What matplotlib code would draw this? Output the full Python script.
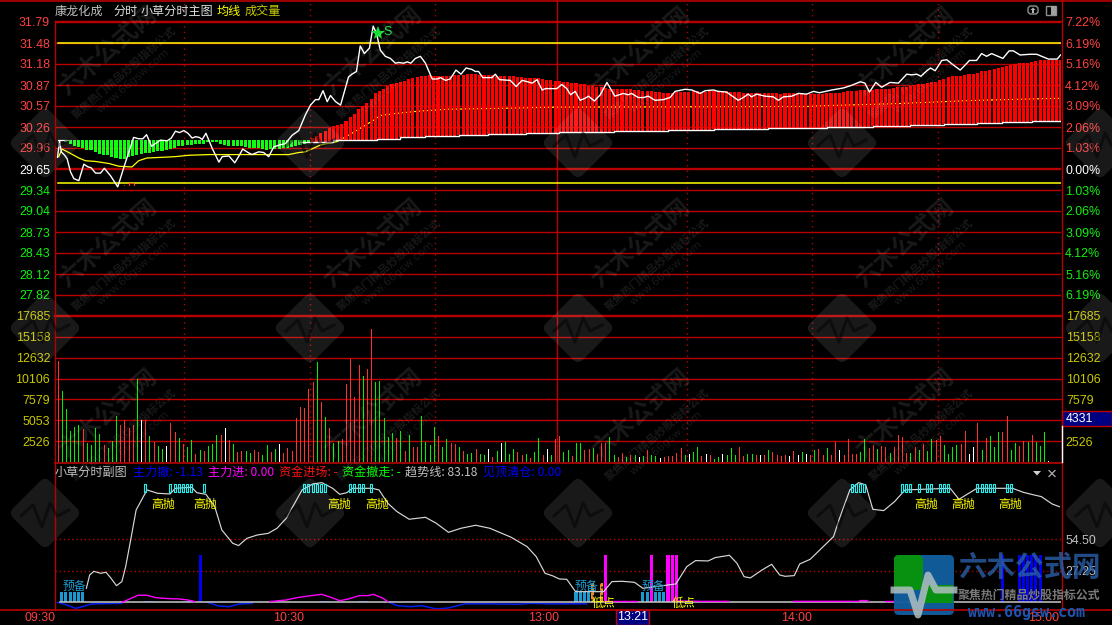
import numpy as np
import matplotlib
matplotlib.use("Agg")
import matplotlib.pyplot as plt
from matplotlib.patches import FancyBboxPatch, Rectangle, Circle, Polygon
from matplotlib.path import Path
from matplotlib.transforms import Affine2D, Bbox, TransformedBbox

W, H = 1112, 625
CJK = ['Noto Sans CJK SC', 'DejaVu Sans']
NUM = ['Liberation Sans', 'DejaVu Sans']

# ---------------- data ----------------
price_ticks = [31.79, 31.48, 31.18, 30.87, 30.57, 30.26, 29.96, 29.65, 29.34, 29.04, 28.73, 28.43, 28.12, 27.82]
pct_labels = ['7.22%', '6.19%', '5.16%', '4.12%', '3.09%', '2.06%', '1.03%', '0.00%', '1.03%', '2.06%', '3.09%', '4.12%', '5.16%', '6.19%']
pre_close = 29.65
band_upper = 31.48
band_lower = 29.45
vol_ticks = [2526, 5053, 7579, 10106, 12632, 15158, 17685]
sub_ticks = [27.25, 54.50]
time_ticks = [-0.5, 59, 120, 180.5, 239.6]
time_labels = ['09:30', '10:30', '13:00', '14:00', '15:00']
dotted_minutes = [30.3, 60.3, 90.3, 150.6, 180.5, 210.7]
lunch_minute = 119.5

price_min = [0, 0.5, 0.9, 1.7, 2.3, 3.1, 3.9, 5.1, 6.3, 7.3, 8.0, 9.1, 10.3, 11.2, 12.7, 14.4, 15.9, 18.2, 19.4, 20.4, 21.3, 22.5, 23.4, 24.6, 26.2, 27.2, 28.2, 29.2, 30.2, 31.2, 32.2, 33.0, 33.9, 34.6, 35.5, 37.0, 38.6, 39.4, 41.0, 42.4, 43.3, 44.3, 45.3, 46.5, 48.1, 49.3, 50.5, 51.7, 53.1, 54.5, 56.1, 57.7, 59.3, 60.5, 61.7, 62.5, 63.5, 64.5, 65.3, 66.5, 67.7, 68.8, 69.6, 70.4, 71.5, 72.4, 73.4, 74.6, 75.5, 76.3, 77.2, 78.4, 79.6, 80.8, 81.6, 82.8, 83.6, 84.5, 85.6, 86.8, 88.0, 89.6, 90.8, 91.6, 92.8, 93.9, 95.3, 96.5, 97.7, 99.1, 99.9, 100.7, 101.7, 103.9, 104.7, 105.7, 108.3, 109.7, 111.1, 112.4, 113.5, 114.7, 115.9, 116.7, 119.4, 120.6, 121.8, 122.7, 123.8, 125, 126.2, 127, 128.4, 129.8, 131.4, 133.3, 135.3, 136.5, 137.3, 138.9, 140.1, 141.3, 142.9, 144.9, 146.5, 147.7, 150.1, 151.7, 153.7, 154.9, 156.9, 158, 160, 162.8, 164, 165.2, 166, 167.2, 169.2, 171.2, 172.4, 173.6, 175.6, 177.2, 179.2, 180.8, 182.2, 185.2, 188, 190, 192, 193.1, 194.2, 195.7, 197.1, 199.1, 201.1, 203.1, 204.3, 205.5, 206.5, 207.9, 208.8, 209.9, 211.5, 212.7, 213.9, 215.9, 217.5, 218.1, 219.8, 221, 222.2, 223.4, 226.1, 227.6, 228.6, 230.2, 232.6, 234.2, 237, 239.1, 239.9]
price_val = [29.82, 30.06, 29.90, 29.85, 29.80, 29.61, 29.51, 29.48, 29.72, 29.68, 29.67, 29.59, 29.59, 29.66, 29.55, 29.39, 29.68, 30.11, 30.09, 30.09, 30.15, 29.98, 30.02, 30.07, 30.06, 30.10, 30.20, 30.18, 30.21, 30.17, 30.10, 30.12, 30.11, 30.08, 30.17, 29.95, 29.75, 29.83, 29.84, 29.74, 29.83, 29.94, 29.90, 29.86, 29.90, 29.89, 29.83, 29.97, 30.0, 30.02, 30.14, 30.21, 30.44, 30.58, 30.66, 30.66, 30.79, 30.63, 30.72, 30.63, 30.58, 30.82, 30.99, 31.03, 31.07, 31.44, 31.33, 31.41, 31.73, 31.62, 31.38, 31.29, 31.26, 31.19, 31.20, 31.19, 31.21, 31.19, 31.26, 31.29, 31.19, 30.96, 30.96, 30.98, 30.94, 30.96, 31.09, 31.03, 31.12, 31.10, 31.07, 31.07, 30.98, 30.98, 31.03, 30.95, 30.94, 30.85, 30.94, 30.92, 30.90, 30.95, 30.80, 30.82, 30.82, 30.88, 30.82, 30.73, 30.78, 30.65, 30.68, 30.71, 30.64, 30.73, 30.91, 30.71, 30.75, 30.73, 30.75, 30.69, 30.69, 30.71, 30.65, 30.66, 30.69, 30.78, 30.81, 30.80, 30.75, 30.79, 30.80, 30.78, 30.77, 30.65, 30.69, 30.74, 30.70, 30.74, 30.71, 30.70, 30.65, 30.70, 30.71, 30.75, 30.74, 30.78, 30.76, 30.80, 30.83, 30.87, 30.92, 30.90, 30.77, 30.91, 30.84, 30.91, 30.90, 31.03, 31.02, 31.03, 31.0, 31.08, 31.12, 31.08, 31.23, 31.24, 31.18, 31.09, 31.19, 31.23, 31.23, 31.33, 31.29, 31.33, 31.26, 31.37, 31.37, 31.31, 31.32, 31.32, 31.25, 31.25, 31.31]

avg_min = [0.3, 1.1, 2.7, 5.1, 6.7, 9.1, 12.3, 14.7, 17.8, 19.4, 21.4, 25, 28.2, 29.8, 31.4, 36.2, 50.5, 55.3, 57.7, 59.3, 61.5, 62.9, 66.9, 70.4, 75.6, 77.2, 81.2, 86, 93.2, 103.5, 119.4, 180, 182, 200, 220, 240]
avg_val = [29.83, 29.94, 29.89, 29.81, 29.77, 29.76, 29.73, 29.69, 29.68, 29.77, 29.81, 29.82, 29.83, 29.84, 29.85, 29.86, 29.86, 29.86, 29.89, 29.90, 29.96, 30.0, 30.05, 30.17, 30.36, 30.43, 30.46, 30.49, 30.52, 30.53, 30.55, 30.56, 30.57, 30.60, 30.65, 30.68]

green_top = 30.07
green_low = [30.055, 30.04, 30.02, 29.99, 29.97, 29.95, 29.93, 29.92, 29.90, 29.87, 29.85, 29.86, 29.82, 29.81, 29.79, 29.79, 29.82, 29.84, 29.86, 29.87, 29.88, 29.89, 29.90, 29.91, 29.91, 29.93, 29.94, 29.96, 29.98, 29.99, 30.0, 30.0, 30.01, 30.02, 30.02, 30.05, 30.05, 30.04, 30.02, 30.0, 29.99, 29.99, 29.98, 29.98, 29.97, 29.96, 29.96, 29.95, 29.94, 29.93, 29.94, 29.94, 29.94, 29.95, 29.96, 29.97, 29.99, 30.0, 30.02, 30.04]

base_min = [58, 66, 76.5, 82, 88, 96, 103, 112, 120, 133, 146, 157, 170, 184, 195, 204, 212, 220, 226, 233, 240]
base_val = [30.043, 30.072, 30.09, 30.116, 30.13, 30.145, 30.16, 30.174, 30.184, 30.20, 30.218, 30.228, 30.242, 30.257, 30.276, 30.286, 30.30, 30.315, 30.33, 30.344, 30.344]

red_top_a = [30.06, 30.10, 30.13, 30.18, 30.21, 30.25, 30.28, 30.29, 30.31, 30.35, 30.40, 30.45, 30.52, 30.56, 30.61, 30.67, 30.75, 30.79, 30.82, 30.86, 30.88, 30.90, 30.92, 30.93, 30.96, 30.97, 30.99, 31.0, 31.01, 31.02, 31.01, 31.0, 31.0, 31.0, 31.0, 31.02, 31.02, 31.02, 31.03, 31.03, 31.03, 31.02, 31.02, 31.02, 31.02, 31.01, 31.01, 31.0, 31.0, 31.0, 30.99, 30.99, 30.98, 30.98, 30.97, 30.97, 30.96, 30.95, 30.94, 30.93, 30.93, 30.92]
red_top_b = [30.92, 30.90, 30.90, 30.88, 30.88, 30.86, 30.86, 30.85, 30.84, 30.83, 30.82, 30.82, 30.81, 30.81, 30.81, 30.81, 30.80, 30.80, 30.79, 30.78, 30.78, 30.77, 30.77, 30.76, 30.76, 30.76, 30.77, 30.77, 30.77, 30.77, 30.78, 30.78, 30.77, 30.77, 30.78, 30.78, 30.78, 30.78, 30.78, 30.77, 30.77, 30.77, 30.76, 30.75, 30.75, 30.75, 30.75, 30.75, 30.75, 30.75, 30.75, 30.74, 30.75, 30.75, 30.75, 30.75, 30.75, 30.74, 30.74]
red_top_c = [30.74, 30.74, 30.74, 30.75, 30.75, 30.76, 30.76, 30.77, 30.78, 30.78, 30.79, 30.80, 30.80, 30.80, 30.80, 30.81, 30.81, 30.82, 30.82, 30.83, 30.84, 30.85, 30.85, 30.86, 30.87, 30.88, 30.89, 30.90, 30.91, 30.92, 30.94, 30.96, 30.99, 31.0, 31.01, 31.01, 31.02, 31.03, 31.04, 31.05, 31.07, 31.08, 31.09, 31.11, 31.12, 31.13, 31.15, 31.17, 31.18, 31.19, 31.20, 31.20, 31.21, 31.22, 31.23, 31.24, 31.24, 31.24, 31.24, 31.24]

volumes = [12270, 8540, 6380, 3730, 4210, 4450, 3970, 2290, 2050, 4090,
           3370, 2050, 1720, 2530, 5530, 4450, 5050, 4090, 4450, 10100,
           5050, 5050, 3130, 2400, 1920, 1560, 1920, 4690, 3610, 2890,
           2170, 1800, 2650, 960, 1440, 1320, 1920, 2170, 3250, 3250,
           4090, 2650, 2170, 1200, 1320, 1320, 1080, 1440, 1200, 840,
           2050, 1200, 1560, 2170, 1080, 1680, 1320, 5290, 6620, 6500,
           8900, 9740, 12150, 7220, 5410, 4090, 2290, 2530, 2770, 9500,
           12510, 7820, 11790, 10470, 11310, 16100, 9740, 9860, 5290, 3010,
           3490, 2890, 3730, 1320, 3250, 1800, 1800, 5530, 2400, 2050,
           4210, 3130, 1800, 2770, 2290, 2170, 1800, 1320, 960, 1080,
           1560, 960, 840, 1560, 600, 1320, 2290, 2400, 960, 1560,
           1200, 840, 960, 480, 1200, 2890, 840, 1560, 840, 2770,
           3130, 1200, 1440, 720, 2290, 2290, 1440, 1560, 1680, 960,
           2290, 2290, 3010, 840, 600, 1080, 600, 840, 840, 600,
           720, 1440, 840, 720, 480, 600, 720, 720, 1080, 1680,
           840, 960, 1200, 1800, 720, 960, 840, 360, 600, 960,
           840, 1680, 840, 1800, 720, 960, 960, 840, 840, 840,
           1440, 1200, 840, 720, 840, 720, 1320, 840, 1200, 960,
           840, 1440, 1560, 840, 1680, 840, 2400, 1440, 840, 2770,
           960, 960, 1200, 2770, 1680, 2050, 1560, 1920, 1800, 1080,
           1800, 3250, 3010, 1080, 1080, 1800, 1440, 2170, 1320, 2770,
           2650, 3130, 2050, 960, 1800, 2050, 2170, 3730, 960, 1800,
           4690, 1440, 2890, 3130, 1800, 3610, 3610, 5530, 1440, 2290,
           1920, 2530, 2400, 3250, 2400, 1920, 3610, 120]
vol_sides = ("rgggggrggg" "grgggrrrrg" "wrgrggwrrg" "rggrgrgggr" "wrgrrggrrg"
             "grgwrrrrrr" "rrgrgrggrr" "rrrgrrgggg" "grgrgrrggg" "grggrrgrgg"
             "rggwrgwggg" "rrgrggrwgr" "rggrggrrgr" "rrggrrgrgw" "grggwrrrrr"
             "gwggrwrggw" "gggrrggrwr" "grrrrwrwgw" "rgrrgrrwrr" "rrggrrgrrg"
             "rrrrgrgrgg" "rrggggrrww" "rgrgggrrgg" "rrgrgggw")
vol_now = '4331'

trend_min = [6.9, 7.7, 8.7, 10.3, 11.6, 12.8, 14.1, 15.4, 16.3, 17.5, 18.8, 20.1, 21.4, 23.9, 26.9, 28.2, 32.1, 33.3, 35.5, 37.6, 39.3, 41.9, 43.3, 45.3, 47.8, 50.4, 52.5, 54.7, 58.5, 61.1, 63.2, 65.8, 67.5, 69.2, 70.5, 75.2, 76.9, 79.0, 81.2, 84.1, 88.0, 90.6, 93.5, 96.5, 100, 103.4, 108.5, 112.3, 114.5, 116.6, 118.5, 120, 121.8, 123.9, 130.6, 132.6, 135, 138, 140, 147.9, 150.5, 152.6, 155.6, 157.3, 160.7, 162.5, 164.2, 165.7, 168.5, 170.8, 172.7, 174, 176.2, 177.5, 180, 185.6, 186.9, 189.5, 191.6, 193.3, 195, 197.6, 200.2, 202.7, 213.5, 215.6, 219.9, 224.1, 228.4, 231, 233.6, 235.3, 237.9, 239.6]
trend_val = [12.1, 23.7, 26.8, 25.1, 26.0, 20.8, 14.4, 17.9, 30.9, 54.0, 79.9, 88.6, 97.3, 94.4, 93.8, 98.7, 99.6, 94.9, 93.5, 82.8, 62.6, 51.1, 49.1, 55.4, 58.3, 59.7, 64.1, 72.7, 97.3, 102.5, 103.6, 98.7, 93.5, 94.9, 98.7, 98.7, 97.3, 85.7, 78.5, 71.9, 73.6, 68.4, 60.6, 64.1, 66.7, 64.1, 56.3, 48.2, 39.5, 25.1, 22.8, 20.2, 19.9, 9.2, 9.2, 17.9, 18.2, 17.3, 12.1, 15.9, 30.9, 36.1, 35.8, 38.7, 40.7, 33.8, 22.2, 21.1, 28, 32.9, 23.7, 22.5, 23.1, 33.2, 37.2, 56.9, 71.3, 97.3, 103.6, 101.6, 80.5, 79.4, 87.2, 97.3, 98.7, 89.2, 98.7, 98.7, 98.7, 95.2, 92.9, 91.5, 85.1, 82.8]

mag_min_a = [15.4, 17.1, 19.2, 21.4, 23.5, 26.5, 29.1, 31.2, 32.9]
mag_val_a = [0, 2.6, 6.1, 6.1, 4, 3.2, 2.9, 2, 0.6]
mag_min_b = [50.8, 53, 54.7, 57.2, 60.7, 63.2, 65.4, 67.5, 69.6, 72.2, 74.3, 75.6, 77.8, 79]
mag_val_b = [0.6, 1.4, 2, 4, 5.8, 6.9, 4.3, 1.4, 2.9, 5.8, 5.8, 6.9, 3.5, 0.6]
mag_min_c = [130.6, 138.5]
mag_val_c = [0.8, 0.8]
mag_min_d = [148, 153.5, 160.5]
mag_val_d = [1.2, 0.8, 0.8]
mag_min_e = [176, 191.6, 192, 193.5, 194]
mag_val_e = [0.8, 0.8, 1.5, 1.5, 0.8]
mag_min_f = [198, 203]
mag_val_f = [0.8, 0.8]
blue_min_a = [0, 2.2, 4.3, 6, 8.1, 10.7, 15.4]
blue_val_a = [0, -2.3, -5.2, -3.8, -1.4, -1.2, -0.9]
blue_min_b = [35.9, 38.5, 41, 43.6, 46.6]
blue_val_b = [0, -3.2, -3.8, -1.4, -0.9]
blue_min_c = [79.4, 81.2, 84.6, 87.1, 90.6, 93.5, 97.4, 100.8, 110.2, 112.8, 119.6, 122, 126.5]
blue_val_c = [0, -2.9, -3.8, -2.9, -5.8, -4.9, -1.4, -1.2, -1.7, -0.9, -1.4, -1.2, -1.4]

teal_minutes = [1, 2, 3, 4, 5, 6, 124, 125, 126, 127, 140, 141, 143, 144, 145]
teal_height = 9.2
orange_minutes = [128, 130]
orange_height = 16.5
magenta_minutes = [131, 142, 146, 147, 148]
tall_height = 41
blue_bar_minutes = [34.3, 226, 230, 231, 232, 233, 234, 235]
blue_tick_minutes = [22, 32, 64, 73]
box_minutes = [21, 27, 28, 29, 30, 31, 32, 35, 59, 60, 61, 62, 63, 64, 70, 71, 72, 73, 75,
               190, 191, 192, 193, 202, 203, 204, 206, 208, 209, 211, 212, 213, 220, 221, 222, 223, 224, 227, 228]
box_level = 98.7
sell_minutes = [25.2, 35.2, 67.3, 76.4, 207.8, 216.7, 227.9]
sell_level = 84.3
ready_minutes = [4.1, 126.5, 142.6]
ready_level = 14.1
low_minutes = [130.7, 149.7]
low_level = -0.8

# ---------------- helpers ----------------
BG = 'black'
GRID = '#b80000'
AXIS = '#b80000'
RED_T = '#ff4040'
GREEN_T = '#10f010'
OLIVE = '#c8c800'
GRAY = '#c0c0c0'
XLIM = (-0.6, 240)
TICK_FS = 8.9

def rect(x0, y0, x1, y1):
    return [x0 / W, 1 - y1 / H, (x1 - x0) / W, (y1 - y0) / H]

fig = plt.figure(figsize=(W / 100, H / 100), dpi=100, facecolor=BG)

def make_ax(x0, y0, x1, y1, z=1):
    a = fig.add_axes(rect(x0, y0, x1, y1), facecolor=BG, zorder=z)
    a.set_xlim(*XLIM)
    for s in a.spines.values():
        s.set_visible(False)
    a.tick_params(length=0)
    a.set_xticks([])
    return a

# ---------------- price panel ----------------
ax = make_ax(55, 1, 1061, 316)
ax.set_ylim(29.65 + (169 - 316) / 68.7, 29.65 + (169 - 1) / 68.7)
ax.set_yticks(price_ticks)
ax.set_yticklabels([f'{p:.2f}' for p in price_ticks], family=NUM, fontsize=TICK_FS)
ax.tick_params(axis='y', pad=3.5)
for t, p in zip(ax.get_yticklabels(), price_ticks):
    t.set_color(RED_T if p > pre_close else ('white' if p == pre_close else GREEN_T))
for p in price_ticks:
    ax.axhline(p, color=GRID, lw=1.7 if p == pre_close else 1.0, zorder=1)
for m in dotted_minutes:
    ax.axvline(m, color=GRID, lw=1.0, ls=(0, (1, 3)), zorder=1)
ax.axvline(lunch_minute, color=GRID, lw=1.0, zorder=1)
ax.plot([0, 240], [band_upper, band_upper], color='#ffff00', lw=1.1, zorder=2)
ax.plot([0, 240], [band_lower, band_lower], color='#ffff00', lw=1.1, zorder=2)

ax.plot(avg_min, avg_val, color='#ffff00', lw=0.9, zorder=3)

base_arr = np.array(base_val)
red_top = np.full(241, np.nan)
red_top[60:60 + len(red_top_a)] = red_top_a
red_top[122:122 + len(red_top_b)] = red_top_b
red_top[181:181 + len(red_top_c)] = red_top_c
mins = np.arange(241)
idx = np.clip(np.searchsorted(base_min, mins, side='right') - 1, 0, len(base_val) - 1)
ok = np.isfinite(red_top)
ax.bar(mins[ok], red_top[ok] - base_arr[idx][ok], bottom=base_arr[idx][ok], width=0.74,
       color='#ff0000', linewidth=0, antialiased=False, zorder=4)
gmins = np.arange(1, 1 + len(green_low))
ax.bar(gmins, green_top - np.array(green_low), bottom=green_low, width=0.74,
       color='#10ff10', linewidth=0, antialiased=False, zorder=4)
ax.plot(base_min, base_val, drawstyle='steps-post', color='white', lw=1.0, zorder=5, solid_joinstyle='miter')
ax.plot([0, 3], [green_top, green_top], color='white', lw=0.9, zorder=5)
ax.plot(price_min, price_val, color='white', lw=1.0, zorder=6)

ax2 = ax.twinx()
ax2.set_ylim(ax.get_ylim())
for s in ax2.spines.values():
    s.set_visible(False)
ax2.set_yticks(price_ticks)
ax2.set_yticklabels(pct_labels, family=NUM, fontsize=TICK_FS)
ax2.tick_params(axis='y', length=0, pad=3)
for t, p in zip(ax2.get_yticklabels(), price_ticks):
    t.set_color(RED_T if p > pre_close else ('white' if p == pre_close else GREEN_T))

ax.plot([76.6], [31.63], marker='*', color='#10e030', ms=10, mew=0, zorder=7)
ax.text(78.0, 31.64, 'S', color='#10e030', fontsize=9, family=NUM, va='center', zorder=7)
clip = TransformedBbox(Bbox([[12, 29.40], [25, 29.48]]), ax.transData)
for m_, s_ in [(15.0, '+'), (16.8, 'B')]:
    tb = ax.text(m_, 29.365, s_, color='#ff3030', fontsize=9, family=NUM, va='center', zorder=7)
    tb.set_clip_box(clip)
    tb.set_clip_on(True)

# ---------------- volume panel ----------------
av = make_ax(55, 316, 1061, 462)
av.set_ylim(0, 17685)
av.set_yticks(vol_ticks)
av.set_yticklabels([str(v) for v in vol_ticks], family=NUM, fontsize=TICK_FS, color=OLIVE)
av.tick_params(axis='y', pad=3.5)
for v in vol_ticks:
    av.axhline(v, color=GRID, lw=1.7 if v == 17685 else 1.0, zorder=1, clip_on=False)
for m in dotted_minutes:
    av.axvline(m, color=GRID, lw=1.0, ls=(0, (1, 3)), zorder=1)
av.axvline(lunch_minute, color=GRID, lw=1.0, zorder=1)
side_col = {'r': '#ff3232', 'g': '#00f000', 'w': '#ffffff'}
av.vlines(np.arange(len(volumes)), 0, volumes, colors=[side_col[c] for c in vol_sides], lw=0.72,
          antialiased=False, zorder=3)
av2 = av.twinx()
av2.set_ylim(0, 17685)
for s in av2.spines.values():
    s.set_visible(False)
av2.set_yticks(vol_ticks)
av2.set_yticklabels([str(v) for v in vol_ticks], family=NUM, fontsize=TICK_FS, color=OLIVE)
av2.tick_params(axis='y', length=0, pad=3.5)

# ---------------- sub panel ----------------
sb = make_ax(55, 463, 1061, 609.5)
sb.set_ylim((602.3 - 609.5) / 1.155, (602.3 - 463) / 1.155)
sb.yaxis.tick_right()
sb.set_yticks(sub_ticks)
sb.set_yticklabels([f'{v:.2f}' for v in sub_ticks], family=NUM, fontsize=TICK_FS, color=GRAY)
sb.tick_params(axis='y', pad=3.5)
sb.set_xticks(time_ticks)
sb.set_xticklabels(time_labels, family=NUM, fontsize=TICK_FS, color=RED_T, ha='right')
sb.tick_params(axis='x', pad=2)
for v in sub_ticks:
    sb.axhline(v, color=GRID, lw=1.0, ls=(0, (1, 2)), zorder=1)
sb.bar(teal_minutes, [teal_height] * len(teal_minutes), width=0.74, color='#1a9ad0', linewidth=0, zorder=2)
sb.bar(orange_minutes, [orange_height] * len(orange_minutes), width=0.74, color='#f09020',
       edgecolor='#202020', hatch='....', linewidth=0, zorder=2)
sb.bar(magenta_minutes, [tall_height] * len(magenta_minutes), width=0.74, color='#ff00ff', linewidth=0, zorder=2)
sb.bar(blue_bar_minutes, [tall_height] * len(blue_bar_minutes), width=0.74, color='#0000f0', linewidth=0, zorder=2)
sb.bar(blue_tick_minutes, [1.2] * len(blue_tick_minutes), width=2.5, color='#0030f0', linewidth=0, zorder=3)
for mm, vv in [(blue_min_a, blue_val_a), (blue_min_b, blue_val_b), (blue_min_c, blue_val_c)]:
    sb.plot(mm, vv, color='#0020f0', lw=1.1, zorder=3)
sb.plot([0.7, 240], [0, 0], color='#c8c8c8', lw=1.1, zorder=4)
for mm, vv in [(mag_min_a, mag_val_a), (mag_min_b, mag_val_b), (mag_min_c, mag_val_c),
               (mag_min_d, mag_val_d), (mag_min_e, mag_val_e), (mag_min_f, mag_val_f)]:
    sb.plot(mm, vv, color='#ff00ff', lw=1.0, zorder=4)
sb.plot(trend_min, trend_val, color='#d8d8d8', lw=0.85, zorder=5)
box_marker = Path([(-0.38, -1), (0.38, -1), (0.38, 1), (-0.38, 1), (-0.38, -1)])
sb.plot(box_minutes, [box_level] * len(box_minutes), ls='none', marker=box_marker, ms=5.2,
        mfc='none', mec='#20f0f0', mew=0.8, zorder=6)
for m in sell_minutes:
    sb.text(m, sell_level, '高抛', color='#ffff00', fontsize=8.6, family=CJK, ha='center', va='center', zorder=7)
for m in ready_minutes:
    sb.text(m, ready_level, '预备', color='#1a9ad0', fontsize=8.6, family=CJK, ha='center', va='center', zorder=7)
for m in low_minutes:
    sb.text(m, low_level, '低点', color='#ffff00', fontsize=8.6, family=CJK, ha='center', va='center', zorder=7, clip_on=False)

# ---------------- overlay: frame, titles, watermark ----------------
ov = fig.add_axes([0, 0, 1, 1], zorder=10, facecolor='none')
ov.set_xlim(0, W)
ov.set_ylim(H, 0)
ov.axis('off')

ov.plot([0, W], [0.8, 0.8], color=AXIS, lw=1.2)
ov.plot([54.5, 54.5], [21, 609.5], color=AXIS, lw=1.0)
ov.plot([1061.5, 1061.5], [0, 609.5], color=AXIS, lw=1.0)
ov.plot([54.5, 1061.5], [21, 21], color=GRID, lw=1.0)
ov.plot([54.5, 1061.5], [463, 463], color=AXIS, lw=1.2)
ov.plot([0, W], [609.5, 609.5], color=AXIS, lw=1.2)
ov.plot([1061.5, 1061.5], [426, 462], color='white', lw=1.0)

def label(x, y, s, color, size=8.7, ha='left', fam=CJK, **kw):
    return ov.text(x, y, s, color=color, fontsize=size, family=fam, ha=ha, va='center', **kw)

label(55, 11, '康龙化成', GRAY)
label(113, 11, '分时', '#e0e0e0')
label(141, 11, '小草分时主图', '#e0e0e0')
label(217, 11, '均线', '#ffff00')
label(245, 11, '成交量', OLIVE)
label(55, 472, '小草分时副图', GRAY)
label(133, 472, '主力撤: -1.13', '#0000ff')
label(208, 472, '主力进: 0.00', '#ff00ff')
label(279, 472, '资金进场: -', '#ff1010')
label(342, 472, '资金撤走: -', '#00ff00')
label(405, 472, '趋势线: 83.18', GRAY)
label(483, 472, '见顶清仓: 0.00', '#0000ff')

ov.add_patch(Rectangle((1062, 411), 50, 15, facecolor='#000080', edgecolor='#c00000', lw=1.0))
label(1066, 418.5, vol_now, 'white', size=TICK_FS, fam=NUM)
ov.add_patch(Rectangle((616, 610), 33, 15, facecolor='#000080', edgecolor='#c00000', lw=1.0))
label(632.5, 617.5, '13:21', 'white', size=TICK_FS, ha='center', fam=NUM)

# window buttons
ov.add_patch(FancyBboxPatch((1028, 6), 10, 8, boxstyle='round,pad=0,rounding_size=3', fc='none', ec='#909090', lw=1))
ov.add_patch(Polygon([(1030.5, 10), (1033, 7.5), (1035.5, 10)], fc='#b0b0b0', ec='none'))
ov.add_patch(Rectangle((1032.2, 10), 1.6, 2.5, fc='#b0b0b0', ec='none'))
ov.add_patch(Rectangle((1046, 5.5), 10, 9.5, fc='none', ec='#909090', lw=1))
ov.add_patch(Rectangle((1051, 6), 4.5, 8.5, fc='#a0a0a0', ec='none'))
ov.add_patch(Polygon([(1033, 471), (1041, 471), (1037, 475.5)], fc='#d0d0d0', ec='none'))
ov.plot([1049, 1055], [470.5, 476.5], color='#b0b0b0', lw=0.9)
ov.plot([1049, 1055], [476.5, 470.5], color='#b0b0b0', lw=0.9)

# repeated watermark
WM = dict(color='white', alpha=0.10, ha='center', va='center', rotation=41, rotation_mode='anchor')
for cy, dy in [(143, -92), (328, -85), (513, -100)]:
    for cx in [45, 310, 578, 842, 1100]:
        tr = Affine2D().rotate_deg_around(cx, cy, 45) + ov.transData
        ov.add_patch(FancyBboxPatch((cx - 26, cy - 26), 52, 52, boxstyle='round,pad=0,rounding_size=7',
                                    fc='white', ec='none', alpha=0.10, transform=tr))
        ov.plot(np.array([-24, -12, -3, 5, 12, 24]) + cx, np.array([3, -8, 14, -10, 3, -3]) + cy,
                color='black', lw=2.2, alpha=0.45)
        if cx > 1000:
            continue
        ov.text(cx + 63, cy + dy, '六木公式网', fontsize=17.5, family=CJK, weight='bold', **WM)
        ov.text(cx + 79, cy + dy + 21, '聚焦热门精品炒股指标公式', fontsize=8, family=CJK, weight='bold', **WM)
        ov.text(cx + 88, cy + dy + 30, 'www.66gsw.com', fontsize=8, family='DejaVu Sans', **WM)

# logo, bottom right
ov.add_patch(FancyBboxPatch((894, 555), 60, 60, boxstyle='round,pad=0,rounding_size=5', fc='#1060a0', ec='none', alpha=0.95, clip_on=False))
ov.add_patch(FancyBboxPatch((894, 555), 29, 35, boxstyle='round,pad=0,rounding_size=5', fc='#089010', ec='none'))
ov.add_patch(Rectangle((924, 585), 29, 18, fc='#089010', ec='none'))
ov.plot([894, 910, 918, 928, 936, 954], [590, 590, 615, 575, 590, 590], color='#b0c0c0', lw=5, alpha=0.85)
ov.text(1029, 568, '六木公式网', color='#2a5fa8', alpha=0.8, fontsize=20.5, family=CJK, weight='bold', ha='center', va='center')
ov.text(1029, 595, '聚焦热门精品炒股指标公式', color='#7a7a7a', fontsize=8.6, family=CJK, weight='bold', ha='center', va='center')
ov.text(1027, 612, 'www.66gsw.com', color='#1f55b0', fontsize=10.8, family='DejaVu Sans Mono', weight='bold', ha='center', va='center')

fig.savefig('out.png', dpi=100, facecolor=BG)
